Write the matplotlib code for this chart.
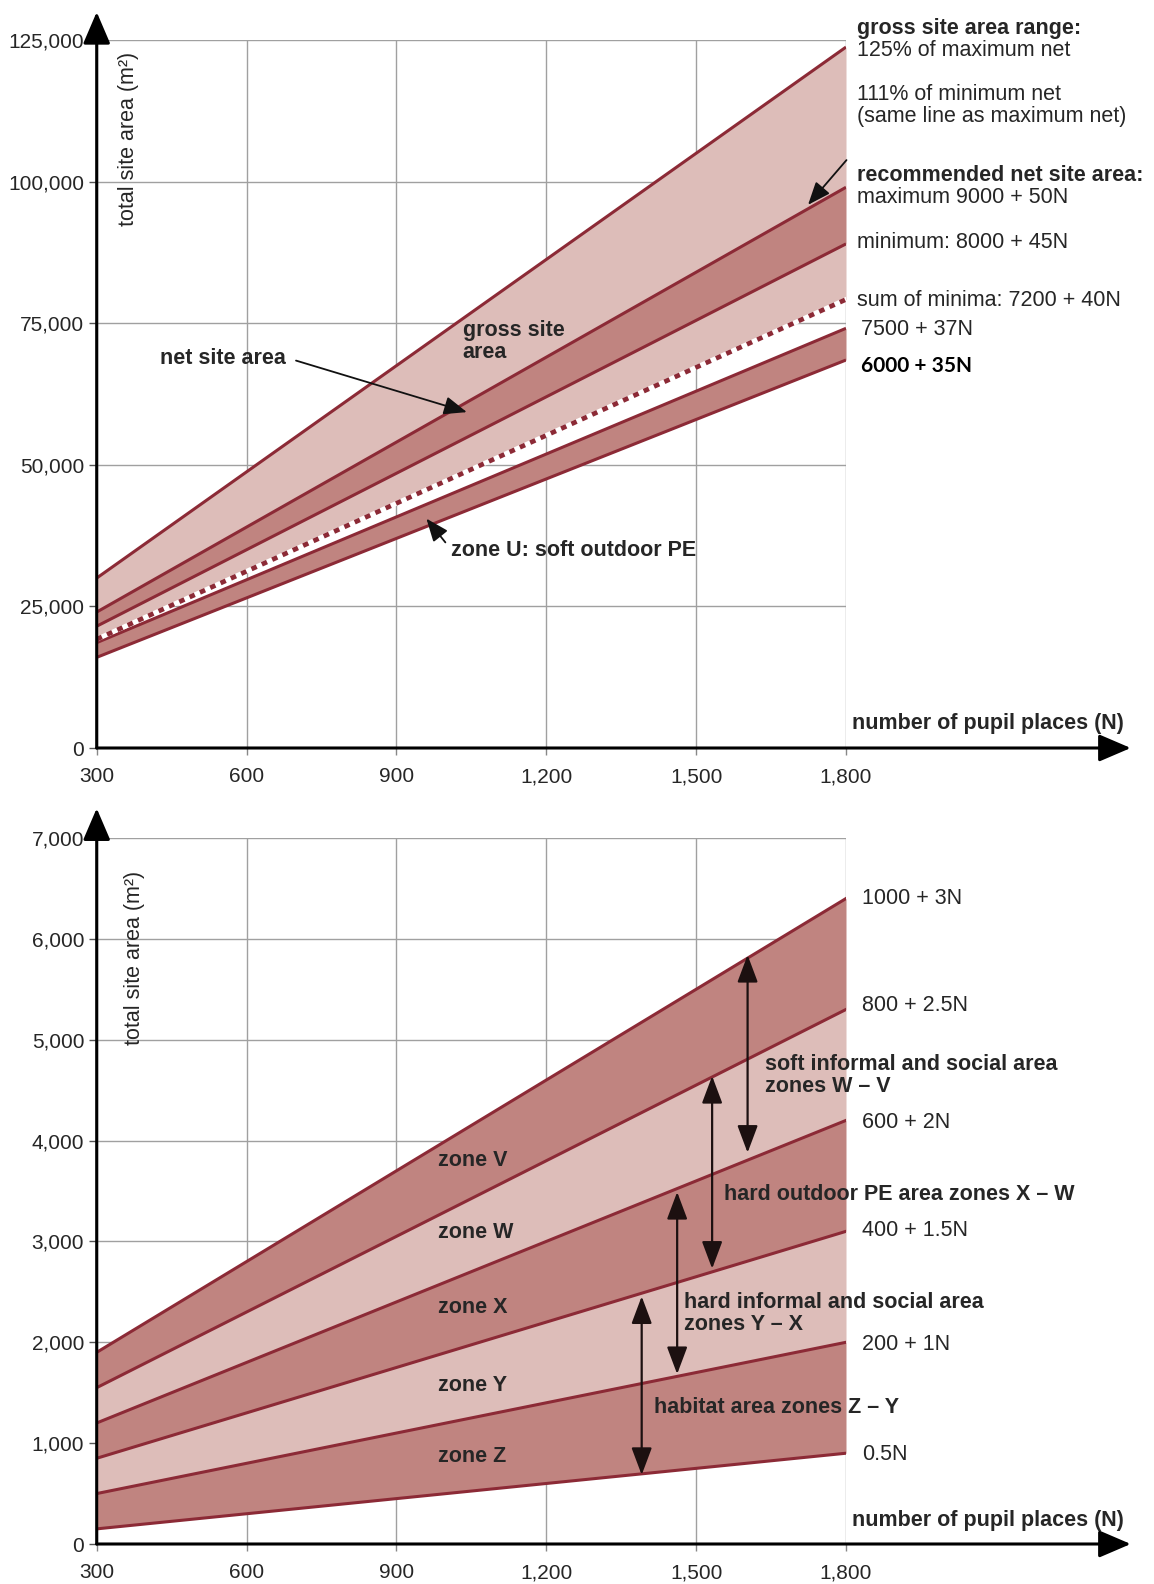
import matplotlib
matplotlib.use("Agg")
import matplotlib.pyplot as plt

plt.rcParams['font.family'] = ['Liberation Sans', 'DejaVu Sans']

# ---------------- data ----------------
pupils = [300, 600, 900, 1200, 1500, 1800]
x_ticks = [300, 600, 900, 1200, 1500, 1800]
x_ticklabels = ["300", "600", "900", "1,200", "1,500", "1,800"]

# top panel (total site area, m2)
gross_125 = [30000, 48750, 67500, 86250, 105000, 123750]
net_max = [24000, 39000, 54000, 69000, 84000, 99000]
net_min = [21500, 35000, 48500, 62000, 75500, 89000]
sum_minima = [19200, 31200, 43200, 55200, 67200, 79200]
zone_u_top = [18600, 29700, 40800, 51900, 63000, 74100]
zone_u_bot = [16000, 26500, 37000, 47500, 58000, 68500]
top_yticks = [0, 25000, 50000, 75000, 100000, 125000]
top_yticklabels = ["0", "25,000", "50,000", "75,000", "100,000", "125,000"]

# bottom panel
line_v = [1900, 2800, 3700, 4600, 5500, 6400]   # 1000 + 3N
line_w = [1550, 2300, 3050, 3800, 4550, 5300]   # 800 + 2.5N
line_x = [1200, 1800, 2400, 3000, 3600, 4200]   # 600 + 2N
line_y = [850, 1300, 1750, 2200, 2650, 3100]    # 400 + 1.5N
line_z = [500, 800, 1100, 1400, 1700, 2000]     # 200 + 1N
line_0 = [150, 300, 450, 600, 750, 900]         # 0.5N
bot_yticks = [0, 1000, 2000, 3000, 4000, 5000, 6000, 7000]
bot_yticklabels = ["0", "1,000", "2,000", "3,000", "4,000", "5,000", "6,000", "7,000"]

# ---------------- style ----------------
W, H = 1154, 1584
LIGHT = '#ddbdb9'
DARK = '#c08480'
LINE = '#8c2a36'
GRID = '#a0a0a0'
TXT = '#262626'
FS = 15.5
TFS = 15

fig = plt.figure(figsize=(W / 100, H / 100), dpi=100)
fig.patch.set_facecolor('white')


def ax_rect(x0, y0, x1, y1):
    return [x0 / W, 1 - y1 / H, (x1 - x0) / W, (y1 - y0) / H]


def ptext(x, y, s, **kw):
    kw.setdefault('va', 'center')
    kw.setdefault('ha', 'left')
    kw.setdefault('fontsize', FS)
    kw.setdefault('color', TXT)
    fig.text(x / W, 1 - y / H, s, **kw)


def setup(ax, ylim, yticks, yticklabels, ytip):
    ax.set_xlim(300, 1800)
    ax.set_ylim(*ylim)
    ax.set_xticks(x_ticks)
    ax.set_xticklabels(x_ticklabels)
    ax.set_yticks(yticks)
    ax.set_yticklabels(yticklabels)
    ax.grid(True, color=GRID, lw=1.0, zorder=0)
    ax.set_axisbelow(True)
    for s in ax.spines.values():
        s.set_visible(False)
    ax.tick_params(axis='y', length=6, width=1, color='#555555', pad=3,
                   labelsize=TFS, labelcolor=TXT)
    ax.tick_params(axis='x', length=5, width=1, color='#888888', pad=9,
                   labelsize=TFS, labelcolor=TXT)
    ax.patch.set_alpha(0)
    ap = dict(arrowstyle='-|>,head_length=0.7,head_width=0.3', lw=2.2,
              color='black', mutation_scale=28, shrinkA=0, shrinkB=0)
    ax.annotate('', xy=(1.380, 0), xytext=(0, 0), xycoords='axes fraction',
                textcoords='axes fraction', arrowprops=ap, annotation_clip=False,
                zorder=10)
    ax.annotate('', xy=(0, ytip), xytext=(0, 0), xycoords='axes fraction',
                textcoords='axes fraction', arrowprops=ap, annotation_clip=False,
                zorder=10)


def dbl_arrow(ax, x, y0, y1):
    ax.annotate('', xy=(x, y1), xytext=(x, y0),
                arrowprops=dict(arrowstyle='<|-|>,head_length=0.8,head_width=0.3',
                                lw=1.6, color='#1c1010', mutation_scale=21,
                                shrinkA=0, shrinkB=0), zorder=6)


# ================= top panel =================
ax1 = fig.add_axes(ax_rect(96.7, 40, 846, 748))
setup(ax1, (0, 125000), top_yticks, top_yticklabels, 1.0395)

ax1.fill_between(pupils, net_max, gross_125, color=LIGHT, lw=0, zorder=2)
ax1.fill_between(pupils, net_min, net_max, color=DARK, lw=0, zorder=2)
ax1.fill_between(pupils, sum_minima, net_min, color=LIGHT, lw=0, zorder=2)
ax1.fill_between(pupils, zone_u_bot, zone_u_top, color=DARK, lw=0, zorder=2)
for ys in (gross_125, net_max, net_min, zone_u_top, zone_u_bot):
    ax1.plot(pupils, ys, color=LINE, lw=2.2, zorder=4, solid_capstyle='butt')
ax1.plot(pupils, sum_minima, color='white', lw=3.4, zorder=4)
ax1.plot(pupils, sum_minima, color=LINE, lw=3.4, zorder=5,
         linestyle=(0, (1.2, 1.2)), dash_capstyle='butt')

arrow_thin = dict(arrowstyle='-|>,head_length=0.7,head_width=0.28', lw=1.3,
                  color='#111111', mutation_scale=20, shrinkA=0, shrinkB=0)
# net site area arrow
ax1.annotate('', xy=(1041, 59300), xytext=(699, 68400), arrowprops=arrow_thin, zorder=7)
# 111% arrow
ax1.annotate('', xy=(1724, 95900), xytext=(1801, 103800), arrowprops=arrow_thin,
             annotation_clip=False, zorder=7)
# zone U arrow
ax1.annotate('', xy=(960, 40500), xytext=(998, 36300), arrowprops=arrow_thin, zorder=7)

ax1.text(0.042, 0.86, 'total site area (m²)', transform=ax1.transAxes, rotation=90,
         ha='center', va='center', fontsize=FS, color=TXT)

ptext(159.7, 358.7, 'net site area', fontweight='bold')
ptext(462.8, 330.4, 'gross site', fontweight='bold')
ptext(462.8, 352.7, 'area', fontweight='bold')
ptext(450.7, 550.7, 'zone U: soft outdoor PE', fontweight='bold')

ptext(857, 28.5, 'gross site area range:', fontweight='bold')
ptext(857, 50, '125% of maximum net')
ptext(857, 94, '111% of minimum net')
ptext(857, 116.2, '(same line as maximum net)')
ptext(857, 175.5, 'recommended net site area:', fontweight='bold')
ptext(857, 197.5, 'maximum 9000 + 50N')
ptext(857, 242.5, 'minimum: 8000 + 45N')
ptext(857, 300, 'sum of minima: 7200 + 40N')
ptext(861, 329.4, '7500 + 37N')
ptext(861, 365.8, '6000 + 35N', fontweight='bold', color='black',
      family=['Lato', 'DejaVu Sans'], fontsize=15)
ptext(852, 723.5, 'number of pupil places (N)', fontweight='bold')

# ================= bottom panel =================
ax2 = fig.add_axes(ax_rect(96.7, 838, 846, 1544))
setup(ax2, (0, 7000), bot_yticks, bot_yticklabels, 1.042)

bands = [(line_0, line_z, DARK), (line_z, line_y, LIGHT), (line_y, line_x, DARK),
         (line_x, line_w, LIGHT), (line_w, line_v, DARK)]
for lo, hi, c in bands:
    ax2.fill_between(pupils, lo, hi, color=c, lw=0, zorder=2)
for ys in (line_v, line_w, line_x, line_y, line_z, line_0):
    ax2.plot(pupils, ys, color=LINE, lw=2.2, zorder=4)

dbl_arrow(ax2, 1603, 3880, 5840)
dbl_arrow(ax2, 1532, 2730, 4640)
dbl_arrow(ax2, 1462, 1685, 3490)
dbl_arrow(ax2, 1391, 685, 2455)

ax2.text(0.050, 0.83, 'total site area (m²)', transform=ax2.transAxes, rotation=90,
         ha='center', va='center', fontsize=FS, color=TXT)

for y, s in [(1160, 'zone V'), (1232.8, 'zone W'), (1307.6, 'zone X'),
             (1385.4, 'zone Y'), (1456, 'zone Z')]:
    ptext(437.5, y, s, fontweight='bold')

ptext(765, 1065, 'soft informal and social area', fontweight='bold')
ptext(765, 1086.3, 'zones W – V', fontweight='bold')
ptext(723.5, 1194.4, 'hard outdoor PE area zones X – W', fontweight='bold')
ptext(684, 1302.5, 'hard informal and social area', fontweight='bold')
ptext(684, 1324.8, 'zones Y – X', fontweight='bold')
ptext(653.8, 1407.6, 'habitat area zones Z – Y', fontweight='bold')

for y, s in [(898.3, '1000 + 3N'), (1005.5, '800 + 2.5N'), (1122.7, '600 + 2N'),
             (1230.8, '400 + 1.5N'), (1344, '200 + 1N'), (1455, '0.5N')]:
    ptext(862, y, s)
ptext(852, 1520.8, 'number of pupil places (N)', fontweight='bold')

fig.savefig('out.png', dpi=100, facecolor='white')
